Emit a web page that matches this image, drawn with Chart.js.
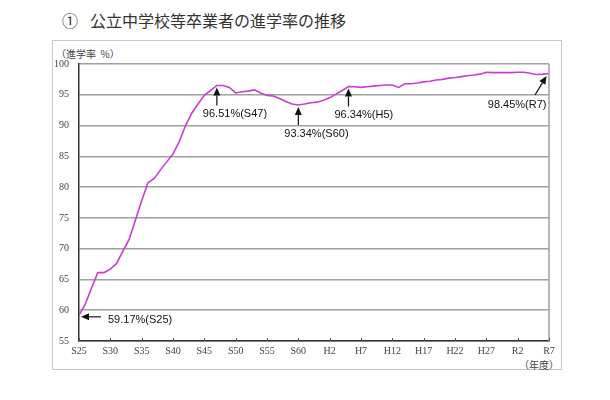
<!DOCTYPE html>
<html lang="ja">
<head>
<meta charset="utf-8">
<script src="https://cdn.jsdelivr.net/npm/chart.js@4"></script>
<style>
  html, body { margin: 0; padding: 0; background: #fff; }
  #wrap { position: relative; width: 610px; height: 400px; overflow: hidden; }
  #frame { position: absolute; left: 52px; top: 40px; width: 508px; height: 328px; border: 1px solid #c8c8c8; }
  #title { position: absolute; left: 62px; top: 8px; font: 16px "Noto Sans CJK JP", sans-serif; color: #333; white-space: nowrap; }
  #title span { margin-right: 12px; }
  #unit { position: absolute; left: 56px; top: 46px; font: 10px "Noto Sans CJK JP", sans-serif; color: #444; white-space: pre; }
  #nendo { position: absolute; left: 519px; top: 357px; font: 10px "Noto Sans CJK JP", sans-serif; color: #444; }
  canvas { position: absolute; left: 0; top: 0; }
</style>
</head>
<body>
<div id="wrap">
  <div id="frame"></div>
  <div id="title"><span>①</span>公立中学校等卒業者の進学率の推移</div>
  <div id="unit">（進学率  %）</div>
  <div id="nendo">（年度）</div>
  <canvas id="c" width="610" height="400"></canvas>
</div>
<script>
// 年度 (S25=1950 ... R7=2025)
const years = [
  1950, 1951, 1952, 1953, 1954, 1955, 1956, 1957, 1958, 1959,
  1960, 1961, 1962, 1963, 1964, 1965, 1966, 1967, 1968, 1969,
  1970, 1971, 1972, 1973, 1974, 1975, 1976, 1977, 1978, 1979,
  1980, 1981, 1982, 1983, 1984, 1985, 1986, 1987, 1988, 1989,
  1990, 1991, 1992, 1993, 1994, 1995, 1996, 1997, 1998, 1999,
  2000, 2001, 2002, 2003, 2004, 2005, 2006, 2007, 2008, 2009,
  2010, 2011, 2012, 2013, 2014, 2015, 2016, 2017, 2018, 2019,
  2020, 2021, 2022, 2023, 2024, 2025
];
// 進学率 (%)
const rates = [
  59.17, 61.0, 63.6, 66.1, 66.1, 66.7, 67.6, 69.6, 71.5, 74.6,
  77.8, 80.7, 81.4, 82.8, 84.1, 85.4, 87.4, 90.0, 92.0, 93.5,
  94.9, 95.7, 96.51, 96.5, 96.2, 95.3, 95.5, 95.6, 95.8, 95.3,
  94.9, 94.8, 94.4, 93.9, 93.5, 93.34, 93.5, 93.7, 93.8, 94.1,
  94.5, 95.1, 95.7, 96.34, 96.3, 96.2, 96.3, 96.4, 96.5, 96.6,
  96.6, 96.2, 96.8, 96.8, 96.9, 97.1, 97.2, 97.4, 97.5, 97.7,
  97.8, 97.95, 98.1, 98.2, 98.35, 98.65, 98.6, 98.6, 98.6, 98.6,
  98.65, 98.65, 98.5, 98.3, 98.35, 98.45
];
const tickYears = [1950, 1955, 1960, 1965, 1970, 1975, 1980, 1985, 1990, 1995, 2000, 2005, 2010, 2015, 2020, 2025];
const tickLabels = ['S25', 'S30', 'S35', 'S40', 'S45', 'S50', 'S55', 'S60', 'H2', 'H7', 'H12', 'H17', 'H22', 'H27', 'R2', 'R7'];

// 注記 (矢印の向き: left / up / diag)
const noteYears = [1950, 1972, 1985, 1993, 2025];
const noteTexts = ['59.17%(S25)', '96.51%(S47)', '93.34%(S60)', '96.34%(H5)', '98.45%(R7)'];
const noteKinds = ['left', 'up', 'up', 'up', 'diag'];

function arrow(ctx, x1, y1, x2, y2) {
  const a = Math.atan2(y2 - y1, x2 - x1);
  const len = 8, hw = 3.5;
  ctx.beginPath();
  ctx.moveTo(x1, y1);
  ctx.lineTo(x2 - Math.cos(a) * len, y2 - Math.sin(a) * len);
  ctx.stroke();
  ctx.beginPath();
  ctx.moveTo(x2, y2);
  ctx.lineTo(x2 - Math.cos(a) * len - Math.sin(a) * hw, y2 - Math.sin(a) * len + Math.cos(a) * hw);
  ctx.lineTo(x2 - Math.cos(a) * len + Math.sin(a) * hw, y2 - Math.sin(a) * len - Math.cos(a) * hw);
  ctx.closePath();
  ctx.fill();
}

const decor = {
  id: 'decor',
  afterDraw(chart) {
    const { ctx, chartArea: a, scales: { x, y } } = chart;
    ctx.save();
    // 右枠
    ctx.strokeStyle = '#a0a0a0';
    ctx.lineWidth = 1.5;
    ctx.beginPath();
    ctx.moveTo(a.right, a.top);
    ctx.lineTo(a.right, a.bottom);
    ctx.stroke();
    // 目盛り(内向き)
    ctx.strokeStyle = '#555';
    ctx.lineWidth = 1;
    tickYears.forEach(v => {
      const px = Math.round(x.getPixelForValue(v)) + 0.5;
      ctx.beginPath();
      ctx.moveTo(px, a.bottom);
      ctx.lineTo(px, a.bottom - 3);
      ctx.stroke();
    });
    // 注記
    ctx.strokeStyle = '#111';
    ctx.fillStyle = '#111';
    ctx.lineWidth = 1.2;
    ctx.font = '11px "Liberation Sans", Arial, sans-serif';
    ctx.textBaseline = 'middle';
    noteYears.forEach((yr, i) => {
      const px = x.getPixelForValue(yr);
      const py = y.getPixelForValue(rates[years.indexOf(yr)]);
      const k = noteKinds[i];
      if (k === 'left') {
        arrow(ctx, px + 22, py + 1.5, px + 2, py + 1.5);
        ctx.textAlign = 'left';
        ctx.fillText(noteTexts[i], px + 29, py + 4.5);
      } else if (k === 'up') {
        arrow(ctx, px, py + 20, px, py + 2);
        ctx.textAlign = 'left';
        ctx.fillText(noteTexts[i], px - 14, py + 28.5);
      } else {
        arrow(ctx, px - 14, py + 21.5, px - 2.5, py + 2.5);
        ctx.textAlign = 'right';
        ctx.fillText(noteTexts[i], px - 2.5, py + 31);
      }
    });
    ctx.restore();
  }
};

const tickFont = { family: '"Liberation Serif", "DejaVu Serif", serif', size: 10 };

new Chart(document.getElementById('c').getContext('2d'), {
  type: 'line',
  data: {
    datasets: [{
      label: '進学率',
      data: years.map((yr, i) => ({ x: yr, y: rates[i] })),
      borderColor: '#c63fd0',
      borderWidth: 1.6,
      pointRadius: 0,
      tension: 0,
      fill: false
    }]
  },
  options: {
    responsive: false,
    animation: false,
    layout: { padding: { left: 0, top: 64, right: 61, bottom: 0 } },
    plugins: { legend: { display: false }, tooltip: { enabled: false } },
    scales: {
      x: {
        type: 'linear',
        min: 1950,
        max: 2025,
        afterBuildTicks: s => { s.ticks = tickYears.map(v => ({ value: v })); },
        afterFit: s => { s.height = 59; },
        ticks: {
          autoSkip: false,
          maxRotation: 0,
          padding: 4,
          color: '#444',
          font: tickFont,
          callback: v => tickLabels[tickYears.indexOf(v)]
        },
        grid: { display: false, drawTicks: false },
        border: { display: true, color: '#333', width: 1.5 }
      },
      y: {
        min: 55,
        max: 100,
        afterFit: s => { s.width = 79; },
        ticks: { stepSize: 5, padding: 10, color: '#444', font: tickFont },
        grid: { color: '#a0a0a0', lineWidth: 1.5, drawTicks: false },
        border: { display: true, color: '#333', width: 1.5 }
      }
    }
  },
  plugins: [decor]
});
</script>
</body>
</html>
